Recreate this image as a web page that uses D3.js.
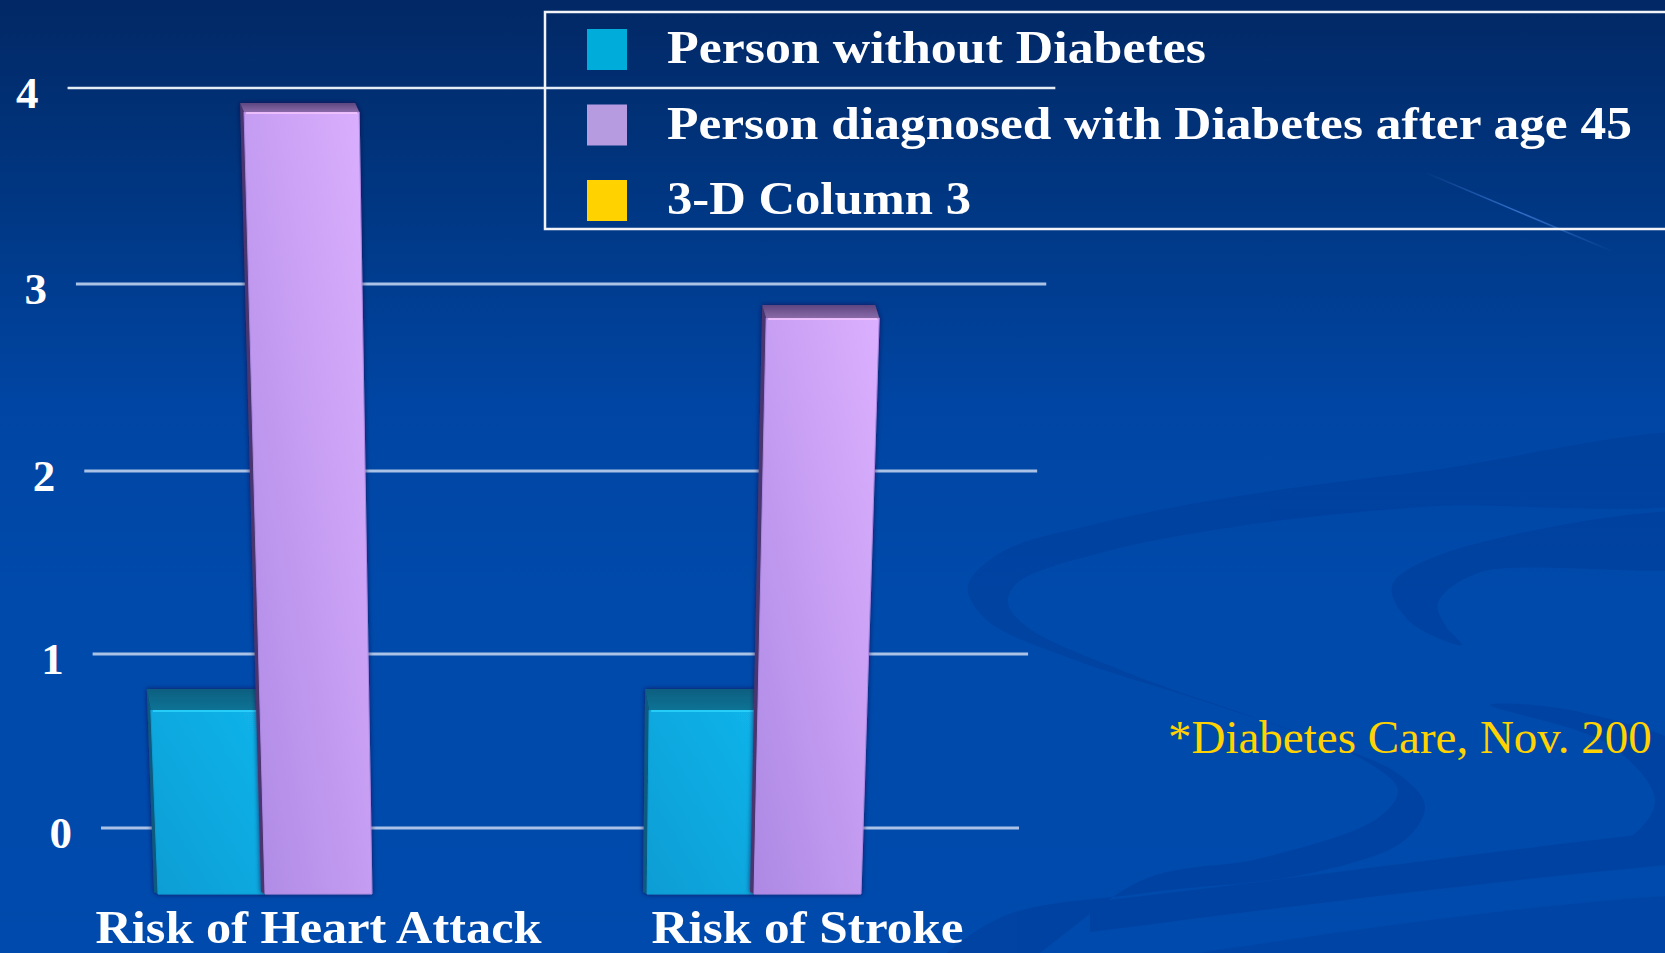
<!DOCTYPE html>
<html>
<head>
<meta charset="utf-8">
<script src="https://cdn.jsdelivr.net/npm/d3@7"></script>
<style>
html,body{margin:0;padding:0;overflow:hidden;background:#004aad;}
</style>
</head>
<body>
<div id="chart"></div>
<script>
// Chart data
const categories = ['Risk of Heart Attack', 'Risk of Stroke'];
const seriesNames = ['Person without Diabetes', 'Person diagnosed with Diabetes after age 45', '3-D Column 3'];
const withoutDiabetes = [1, 1];
const diagnosedAfter45 = [4, 3];
const column3 = [null, null];
const yTicks = [0, 1, 2, 3, 4];
const footnote = '*Diabetes Care, Nov. 200';

const W = 1665, H = 953;
const serif = '"Palatino Linotype","Book Antiqua",Palatino,"Liberation Serif",serif';

let svg = d3.select('#chart').append('svg')
    .attr('width', W)
    .attr('height', H)
    .attr('viewBox', '0 0 ' + W + ' ' + H);

let defs = svg.append('defs');

// background gradient
let bg = defs.append('linearGradient').attr('id', 'bg')
    .attr('x1', 0).attr('y1', 0).attr('x2', 0).attr('y2', 1);
[[0, '#022865'], [0.2, '#003681'], [0.42, '#0045a3'], [0.62, '#004aab'], [1, '#004aad']]
    .forEach(s => bg.append('stop').attr('offset', s[0]).attr('stop-color', s[1]));

// bar faces
const faceCols = [
    {front: ['#12b4ea', '#0a9dd4'], top: ['#0b5f80', '#0f7396'], hi: '#2fd6ff', side: '#075a80'},
    {front: ['#dcb0ff', '#ad89e4'], top: ['#5c4680', '#8a6aa8'], hi: '#f6c6ff', side: '#4a3670'},
    {front: ['#ffe040', '#e0b800'], top: ['#8a7000', '#b09000'], hi: '#fff080', side: '#806000'}
];
faceCols.forEach((c, i) => {
    let g = defs.append('linearGradient').attr('id', 'front' + i)
        .attr('x1', 1).attr('y1', 0).attr('x2', 0).attr('y2', 1);
    g.append('stop').attr('offset', 0).attr('stop-color', c.front[0]);
    g.append('stop').attr('offset', 1).attr('stop-color', c.front[1]);
    let t = defs.append('linearGradient').attr('id', 'top' + i)
        .attr('x1', 0).attr('y1', 0).attr('x2', 0).attr('y2', 1);
    t.append('stop').attr('offset', 0).attr('stop-color', c.top[0]);
    t.append('stop').attr('offset', 1).attr('stop-color', c.top[1]);
});

let shadow = defs.append('filter').attr('id', 'shadow')
    .attr('x', '-20%').attr('y', '-5%').attr('width', '140%').attr('height', '110%');
shadow.append('feDropShadow')
    .attr('dx', 0).attr('dy', 0)
    .attr('stdDeviation', 2.5)
    .attr('flood-color', '#1a1040')
    .attr('flood-opacity', 0.75);

let streak = defs.append('linearGradient').attr('id', 'streak');
streak.append('stop').attr('offset', 0).attr('stop-color', '#4a88e8').attr('stop-opacity', 0);
streak.append('stop').attr('offset', 0.5).attr('stop-color', '#4a88e8').attr('stop-opacity', 0.7);
streak.append('stop').attr('offset', 1).attr('stop-color', '#4a88e8').attr('stop-opacity', 0);

svg.append('rect').attr('width', W).attr('height', H).attr('fill', 'url(#bg)');

// background swooshes (slide decoration)
let band = d3.line().curve(d3.curveCatmullRomClosed);
let deco = svg.append('g').attr('fill', '#003c98').attr('opacity', 0.5);
deco.append('path').attr('d', band([
    [1720, 440], [1420, 472], [1233, 497], [1100, 523], [1000, 553], [968, 587], [987, 620],
    [1067, 657], [1200, 700], [1333, 745], [1400, 775], [1425, 806], [1405, 840], [1312, 873],
    [1145, 893], [1000, 918], [930, 975],
    [1000, 975], [1145, 879], [1262, 858], [1378, 818], [1398, 790], [1367, 762], [1267, 722],
    [1133, 675], [1027, 627], [1008, 603], [1017, 583], [1100, 553], [1233, 527], [1420, 507],
    [1720, 492]
]));
deco.append('path').attr('d', band([
    [1720, 518], [1445, 553], [1392, 586], [1410, 622], [1462, 645],
    [1445, 625], [1438, 603], [1478, 573], [1720, 560]
]));
deco.append('path').attr('d', band([
    [1490, 705], [1610, 745], [1655, 800], [1630, 838], [1560, 868],
    [1600, 866], [1690, 830], [1700, 760], [1580, 712]
]));
deco.append('path').attr('d', 'M1090,902 C1300,878 1500,850 1680,830 L1680,864 C1500,880 1300,905 1090,932 Z');
deco.append('path').attr('d', 'M1150,960 C1350,930 1520,905 1680,895 L1680,960 Z').attr('opacity', 0.6);
svg.append('line')
    .attr('x1', 1424).attr('y1', 172).attr('x2', 1614).attr('y2', 252)
    .attr('stroke', 'url(#streak)').attr('stroke-width', 1.5);

// scales
const cx = 541, k = 0.019;
const persp = (x, v) => cx + (x - cx) * (1 + k * v);

let xCat = d3.scaleBand().domain(categories).range([74, 1052])
    .paddingInner(0.344).paddingOuter(0.172);
let xSer = d3.scaleBand().domain(seriesNames).range([0, xCat.bandwidth()]);
let yWall = d3.scaleLinear().domain([0, 1, 2, 3, 4]).range([828, 654, 471, 284, 88]);
let yFront = d3.scaleLinear().domain([0, 1, 2, 3, 4]).range([894, 710, 518, 318, 112]);
let topDepth = d3.scaleLinear().domain([1, 4]).range([21, 9]);
let wall = d3.scaleLinear().domain([0, 1]).range([101, 1019]);

// gridlines on the back wall
svg.append('g').selectAll('line')
    .data(yTicks).enter()
    .append('line')
    .attr('x1', d => persp(wall(0), d))
    .attr('x2', d => persp(wall(1), d))
    .attr('y1', d => yWall(d))
    .attr('y2', d => yWall(d))
    .attr('stroke', d => d == 4 ? '#e4ecf6' : '#a9c2e6')
    .attr('stroke-width', d => d == 4 ? 2.5 : 3);

svg.append('g').selectAll('text')
    .data(yTicks).enter()
    .append('text')
    .attr('x', d => persp(wall(0), d) - 29)
    .attr('y', d => yWall(d) + 20)
    .attr('text-anchor', 'end')
    .attr('fill', '#ffffff')
    .attr('font-family', serif)
    .attr('font-weight', 'bold')
    .attr('font-size', 45)
    .text(d => d);

// bars
const seriesVals = [withoutDiabetes, diagnosedAfter45, column3];
let bars = [];
categories.forEach((c, i) => seriesNames.forEach((s, j) => {
    if (seriesVals[j][i] != null) bars.push({cat: c, series: s, si: j, value: seriesVals[j][i]});
}));

const topShift = -4;
const pts = a => a.map(p => p.join(',')).join(' ');

svg.append('g').selectAll('g')
    .data(bars).enter()
    .append('g')
    .attr('filter', 'url(#shadow)')
    .each(function(d) {
        let g = d3.select(this);
        let xl = xCat(d.cat) + xSer(d.series), xr = xl + xSer.bandwidth();
        let yT = yFront(d.value), yB = yFront(0);
        let tl = [persp(xl, d.value), yT], tr = [persp(xr, d.value), yT];
        let br = [persp(xr, 0), yB], bl = [persp(xl, 0), yB];
        let dep = topDepth(d.value);
        let back = p => [p[0] + topShift, p[1] - dep];
        let c = faceCols[d.si];

        g.append('polygon')
            .attr('points', pts([tl, back(tl), [bl[0] + topShift, yB - 2], bl]))
            .attr('fill', c.side);
        g.append('polygon')
            .attr('points', pts([tl, tr, br, bl]))
            .attr('fill', 'url(#front' + d.si + ')')
            .attr('stroke', c.front[1]).attr('stroke-width', 1)
            .attr('stroke-linejoin', 'round');
        g.append('polygon')
            .attr('points', pts([back(tl), back(tr), tr, tl]))
            .attr('fill', 'url(#top' + d.si + ')')
            .attr('stroke-linejoin', 'round');
        g.append('line')
            .attr('x1', tl[0] + 2).attr('y1', yT + 1)
            .attr('x2', tr[0] - 2).attr('y2', yT + 1)
            .attr('stroke', c.hi).attr('stroke-width', 2).attr('opacity', 0.8);
    });

// category labels, centred under the second series slot
svg.append('g').selectAll('text')
    .data(categories).enter()
    .append('text')
    .attr('x', d => persp(xCat(d) + xSer(seriesNames[1]) + xSer.bandwidth() / 2, 0))
    .attr('y', 943)
    .attr('text-anchor', 'middle')
    .attr('fill', '#ffffff')
    .attr('font-family', serif)
    .attr('font-weight', 'bold')
    .attr('font-size', 47)
    .attr('textLength', (d, i) => [446, 312][i])
    .attr('lengthAdjust', 'spacingAndGlyphs')
    .text(d => d);

// legend
const legendCols = ['#00acd9', '#b69be1', '#ffd200'];
let legend = svg.append('g');
legend.append('rect')
    .attr('x', 545).attr('y', 12)
    .attr('width', 1140).attr('height', 217)
    .attr('fill', 'none')
    .attr('stroke', '#f2f4f8')
    .attr('stroke-width', 2.5);
let li = legend.selectAll('g')
    .data(seriesNames).enter()
    .append('g')
    .attr('transform', (d, i) => `translate(587,${29 + i * 75.5})`);
li.append('rect')
    .attr('width', 40).attr('height', 41)
    .attr('fill', (d, i) => legendCols[i]);
li.append('text')
    .attr('x', 80).attr('y', 34)
    .attr('fill', '#ffffff')
    .attr('font-family', serif)
    .attr('font-weight', 'bold')
    .attr('font-size', 47)
    .attr('textLength', (d, i) => [539, 965, 304][i])
    .attr('lengthAdjust', 'spacingAndGlyphs')
    .text(d => d);

// source note
svg.append('text')
    .attr('x', 1168).attr('y', 753)
    .attr('fill', '#ffd200')
    .attr('font-family', '"Times New Roman","Liberation Serif",serif')
    .attr('font-size', 47)
    .text(footnote);
</script>
</body>
</html>
